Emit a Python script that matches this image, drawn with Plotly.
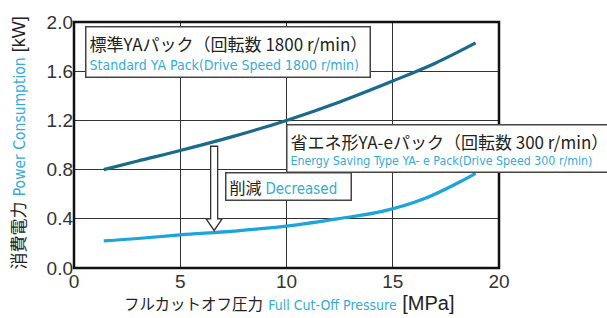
import plotly.graph_objects as go

# Data
pressure_std = [1.4, 3.0, 5.0, 7.5, 10.0, 12.5, 15.0, 17.0, 18.9]
power_std = [0.80, 0.87, 0.955, 1.07, 1.20, 1.35, 1.52, 1.665, 1.83]

pressure_eco = [1.4, 3.0, 5.0, 7.5, 10.0, 12.4, 14.5, 16.5, 18.1, 18.9]
power_eco = [0.22, 0.24, 0.27, 0.30, 0.34, 0.40, 0.46, 0.565, 0.695, 0.77]

x_ticks = [0, 5, 10, 15, 20]
y_ticks = [0.0, 0.4, 0.8, 1.2, 1.6, 2.0]
y_tick_text = ["0.0", "0.4", "0.8", "1.2", "1.6", "2.0"]

DARK = "#1a6a8b"
LIGHT = "#1ca4dc"
EN = "#34acd9"
JP_FONT = "Noto Sans CJK JP"
NUM_FONT = "Liberation Sans, Arial, sans-serif"
NARROW = "Liberation Sans Narrow, DejaVu Sans Condensed, Liberation Sans, sans-serif"

fig = go.Figure()
fig.add_trace(go.Scatter(x=pressure_std, y=power_std, mode="lines",
                         line=dict(color=DARK, width=3.2, shape="spline", smoothing=1),
                         hoverinfo="skip", showlegend=False))
fig.add_trace(go.Scatter(x=pressure_eco, y=power_eco, mode="lines",
                         line=dict(color=LIGHT, width=3.2, shape="spline", smoothing=1),
                         hoverinfo="skip", showlegend=False))

W, H = 607, 318
L, R, T, B = 74, 108, 15, 50
PW = W - L - R
PH = H - T - B


def px(xp):
    return (xp - L) / PW


def py(yp):
    return 1 - (yp - T) / PH


def en(t, size=13):
    return f'<span style="color:{EN};font-family:{NARROW};font-size:{size}px">{t}</span>'


def jp(t, size=16):
    return f'<span style="color:#222;font-family:{JP_FONT};font-size:{size}px">{t}</span>'


def num(t, size=17):
    return f'<span style="color:#222;font-family:{NUM_FONT};font-size:{size}px">{t}</span>'


annotations = [
    # Box 1
    dict(x=px(85), y=py(19), xref="paper", yref="paper", xanchor="left", yanchor="top",
         text=jp("標準YAパック（回転数 1800 r/min）", 17) + "<br>" + en("Standard YA Pack(Drive Speed 1800 r/min)", 14),
         align="left", valign="middle", showarrow=False, bgcolor="white", bordercolor="#444",
         borderwidth=1.5, borderpad=3, width=277, height=43, font=dict(size=14)),
    # Box 2
    dict(x=px(286), y=py(120), xref="paper", yref="paper", xanchor="left", yanchor="top",
         text=jp("省エネ形YA-eパック（回転数 300 r/min）", 17) + "<br>" + en("Energy Saving Type YA- e Pack(Drive Speed 300 r/min)", 12.3),
         align="left", valign="middle", showarrow=False, bgcolor="white", bordercolor="#444",
         borderwidth=1.5, borderpad=3, width=345, height=40, font=dict(size=13)),
    # Box 3
    dict(x=px(225), y=py(169), xref="paper", yref="paper", xanchor="left", yanchor="top",
         text=jp("削減", 16) + " " + en("Decreased", 15),
         align="left", valign="middle", showarrow=False, bgcolor="white", bordercolor="#444",
         borderwidth=1.5, borderpad=3, width=118, height=20, font=dict(size=14)),
    # Y axis title
    dict(x=px(18), y=py(140), xref="paper", yref="paper", xanchor="center", yanchor="middle",
         text=jp("消費電力", 17) + " " + en("Power Consumption", 15.5) + num(" [kW]", 18),
         textangle=-90, showarrow=False),
    # X axis title
    dict(x=px(289), y=py(304), xref="paper", yref="paper", xanchor="center", yanchor="middle",
         text=jp("フルカットオフ圧力", 15.5) + " " + en("Full Cut-Off Pressure", 14) + num(" [MPa]", 20),
         showarrow=False),
]

# Hollow "decrease" arrow (decoration)
ax0, ax1 = 6.43, 6.76
hx0, hx1 = 6.22, 6.97
ytop, yhead, ytip = 0.99, 0.40, 0.305
xm = (ax0 + ax1) / 2
arrow_path = (f"M {ax0},{ytop} L {ax1},{ytop} L {ax1},{yhead} L {hx1},{yhead} "
              f"L {xm},{ytip} L {hx0},{yhead} L {ax0},{yhead} Z")

fig.update_layout(
    width=W, height=H,
    margin=dict(l=L, r=R, t=T, b=B, pad=0),
    paper_bgcolor="white", plot_bgcolor="white",
    font=dict(family=NUM_FONT, size=19, color="#333"),
    xaxis=dict(range=[0, 20], tickvals=x_ticks, ticktext=[str(v) for v in x_ticks],
               showgrid=True, gridcolor="#333", gridwidth=1, zeroline=False,
               showline=False, ticks="", ticklen=0, fixedrange=True),
    yaxis=dict(range=[0, 2.0], tickvals=y_ticks, ticktext=y_tick_text,
               showgrid=True, gridcolor="#333", gridwidth=1, zeroline=False,
               showline=False, ticks="", ticklen=0, fixedrange=True),
    shapes=[
        dict(type="path", path=arrow_path, xref="x", yref="y",
             line=dict(color="#333", width=1.3), fillcolor="white", layer="above"),
        dict(type="rect", xref="paper", yref="paper", x0=0, x1=1, y0=0, y1=1,
             line=dict(color="#111", width=2.5), layer="above"),
    ],
    annotations=annotations,
)

fig.write_html("out.html", config={"displayModeBar": False},
               post_script="document.body.style.margin='0';document.body.style.overflow='hidden';")
